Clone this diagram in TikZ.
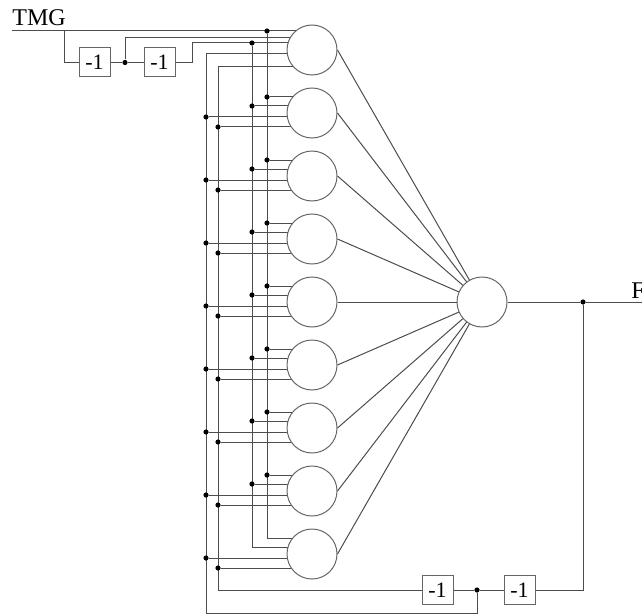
\documentclass[tikz,border=0pt]{standalone}
\usepackage{fontspec}
\setmainfont{Liberation Serif}
\usetikzlibrary{calc,backgrounds}

\tikzset{
  wire/.style={draw=black!70, line width=0.5pt},
  neuron/.style={circle, draw=black!60, fill=white, line width=0.5pt,
    minimum size=25pt, inner sep=0pt},
  unitdelay/.style={rectangle, draw=black!60, fill=white, line width=0.5pt,
    minimum width=15.5pt, minimum height=14.5pt, inner sep=0pt,
    font=\fontsize{11}{11}\selectfont},
  junction/.style={circle, fill=black, inner sep=0pt, minimum size=2.6pt},
  lbl/.style={anchor=base west, inner sep=0pt, font=\fontsize{12}{12}\selectfont},
}

\begin{document}
\begin{tikzpicture}[x=0.5pt, y=-0.5pt]
\useasboundingbox (0,0) rectangle (642,615);

% Hidden layer
\foreach \i in {1,...,9}
  \node[neuron] (h\i) at (312,{50+63*(\i-1)}) {};

% Output neuron
\node[neuron] (out) at (482,302) {};

% Labels
\node[lbl] (tmglbl) at (12,26) {TMG};
\node[lbl] (flbl) at (631,298) {F};

% Delay units
\node[unitdelay] (z1) at (94.5,62.5) {-1};
\node[unitdelay] (z2) at (159.5,62.5) {-1};
\node[unitdelay] (z3) at (437.5,590) {-1};
\node[unitdelay] (z4) at (519.5,590) {-1};

% Junctions
\node[junction] (j1) at (125,62.5) {};
\node[junction] (j2) at (477,590) {};
\node[junction] (j3) at (583,302) {};
\node[junction] (a1) at (267,31) {};
\node[junction] (b1) at (252,43) {};
\foreach \i in {2,...,8} {
  \node[junction] (a\i) at ($(h\i.center)+(-45,-16)$) {};
  \node[junction] (b\i) at ($(h\i.center)+(-60,-7)$) {};
}
\foreach \i in {2,...,9} {
  \node[junction] (c\i) at ($(h\i.center)+(-106,4)$) {};
  \node[junction] (d\i) at ($(h\i.center)+(-94,14)$) {};
}

% Bend points
\coordinate (tmg) at (12,31);
\coordinate (br) at (64,31);
\coordinate (k1) at (192,62.5);
\coordinate (c1) at (206,54);
\coordinate (d1) at (218,67);
\coordinate (cend) at (206,613);
\coordinate (fend) at (642,302);

\begin{scope}[on background layer]
% Input and its delays
\draw[wire] (tmg) -- (tmg -| h1.center);
\draw[wire] (br) |- (z1);
\draw[wire] (z1) -- (j1) -- (z2);
\draw[wire] (j1) |- ($(h1.center)+(0,-12)$);
\draw[wire] (z2) -- (k1) |- (b1 -| h1.center);
\draw[wire] (c1) -- (c1 -| h1.center);
\draw[wire] (d1) -- (d1 -| h1.center);

% Buses
\draw[wire] (a1) |- ($(h9.center)+(0,-16)$);
\draw[wire] (b1) |- ($(h9.center)+(0,-7)$);
\draw[wire] (c1) -- (cend) -| (j2);
\draw[wire] (d1) |- (z3);
\foreach \i in {2,...,8} {
  \draw[wire] (a\i) -- (a\i -| h\i.center);
  \draw[wire] (b\i) -- (b\i -| h\i.center);
}
\foreach \i in {2,...,9} {
  \draw[wire] (c\i) -- (c\i -| h\i.center);
  \draw[wire] (d\i) -- (d\i -| h\i.center);
}
\end{scope}

% Hidden to output
\foreach \i in {1,...,9}
  \draw[wire] (h\i.east) -- (out);

% Output and feedback
\draw[wire] (out) -- (j3) -- (fend);
\draw[wire] (j3) |- (z4);
\draw[wire] (z4) -- (j2) -- (z3);
\end{tikzpicture}
\end{document}
